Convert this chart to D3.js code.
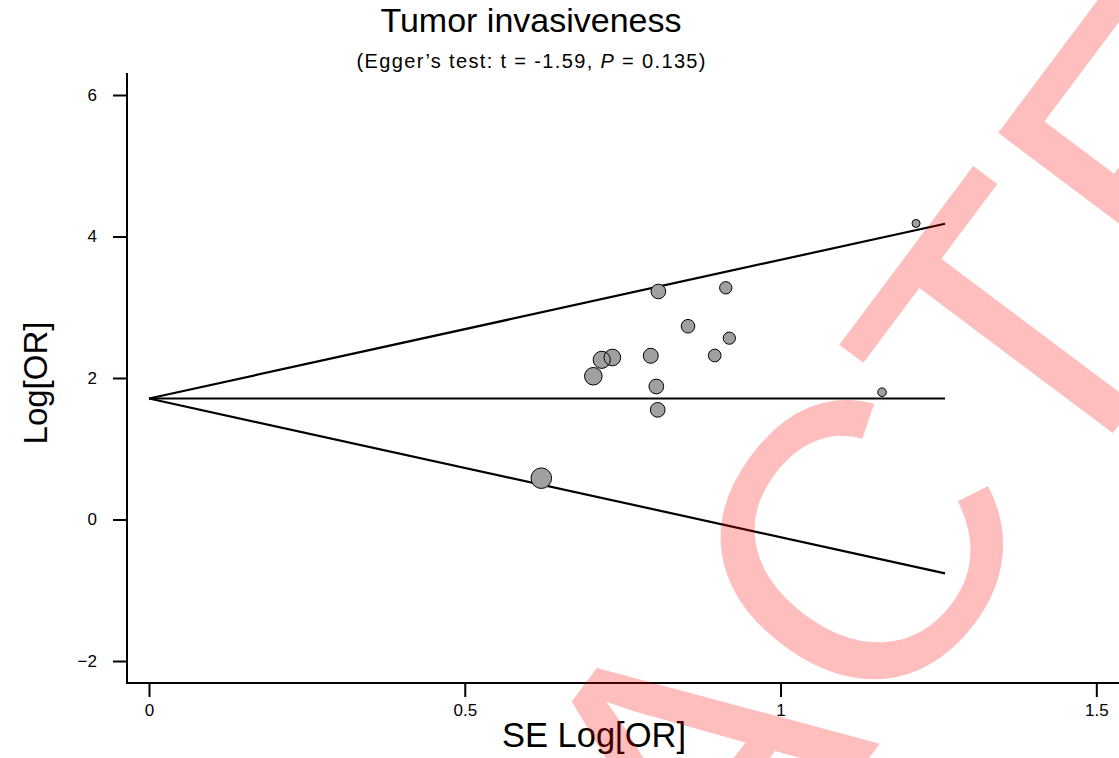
<!DOCTYPE html>
<html>
<head>
<meta charset="utf-8">
<script src="https://cdn.jsdelivr.net/npm/d3@7/dist/d3.min.js"></script>
<style>
  body { margin: 0; background: #fff; }
  text { font-family: "Liberation Sans", Arial, sans-serif; }
</style>
</head>
<body>
<div id="chart"></div>
<script>
// study estimates
var seValues  = [1.2146, 0.8065, 0.9133, 0.8535, 0.9189, 0.7945, 0.8958, 0.7337, 0.7169, 0.7036, 0.8033, 0.8055, 1.1607, 0.6212];
var logOR     = [4.184, 3.223, 3.275, 2.732, 2.563, 2.314, 2.318, 2.290, 2.257, 2.025, 1.880, 1.550, 1.799, 0.584];
var pooled = 1.71;
var maxSE = 1.2605;
var xTicks = [0, 0.5, 1, 1.5];
var yTicks = [-2, 0, 2, 4, 6];

var width = 1119, height = 758;

var svg = d3.select("#chart").append("svg")
  .attr("width", width).attr("height", height);

svg.append("rect").attr("width", width).attr("height", height).attr("fill", "#fff");

var x = d3.scaleLinear().domain([0, 1.5]).range([149, 1096.3]);
var y = d3.scaleLinear().domain([-2, 6]).range([661, 95]);
var r = d3.scaleLinear().domain([1 / 1.2146, 1 / 0.6212]).range([4, 10.3]);

var studies = seValues.map(function(se, i) { return { se: se, lor: logOR[i] }; });

// titles
svg.append("text").attr("x", 531).attr("y", 32).attr("text-anchor", "middle")
  .style("font-size", "34px").text("Tumor invasiveness");

var sub = svg.append("text").attr("x", 531).attr("y", 68).attr("text-anchor", "middle")
  .attr("textLength", 349).attr("lengthAdjust", "spacing")
  .style("font-size", "20px");
sub.append("tspan").text("(Egger\u2019s test: t = -1.59, ");
sub.append("tspan").style("font-style", "italic").text("P");
sub.append("tspan").text(" = 0.135)");

// axes
var yAxis = svg.append("g").attr("transform", "translate(127,0)")
  .call(d3.axisLeft(y).tickValues(yTicks).tickSize(14).tickPadding(16).tickFormat(d3.format("")));
var xAxis = svg.append("g").attr("transform", "translate(0,683)")
  .call(d3.axisBottom(x).tickValues(xTicks).tickSize(14).tickPadding(7).tickFormat(d3.format("")));

[yAxis, xAxis].forEach(function(a) {
  a.select(".domain").remove();
  a.selectAll(".tick line").attr("stroke", "#000").attr("stroke-width", 2);
  a.selectAll(".tick text").attr("fill", "#000").style("font-size", "17px")
    .style("font-family", "'Liberation Sans', Arial, sans-serif");
});

svg.append("line").attr("x1", 127).attr("x2", 127).attr("y1", 73).attr("y2", 684)
  .attr("stroke", "#000").attr("stroke-width", 2);
svg.append("line").attr("x1", 126).attr("x2", width).attr("y1", 683).attr("y2", 683)
  .attr("stroke", "#000").attr("stroke-width", 2);

svg.append("text").attr("transform", "translate(47,383) rotate(-90)")
  .attr("text-anchor", "middle").style("font-size", "33px").text("Log[OR]");
svg.append("text").attr("x", 594).attr("y", 747).attr("text-anchor", "middle")
  .style("font-size", "34.5px").text("SE Log[OR]");

// funnel lines
var funnel = [
  [[0, pooled], [maxSE, pooled + 1.96 * maxSE]],
  [[0, pooled], [maxSE, pooled]],
  [[0, pooled], [maxSE, pooled - 1.96 * maxSE]]
];
var line = d3.line().x(function(d) { return x(d[0]); }).y(function(d) { return y(d[1]); });
svg.append("g").selectAll("path").data(funnel).enter().append("path")
  .attr("d", line).attr("fill", "none").attr("stroke", "#000").attr("stroke-width", 2.2);

// points: fills first, then outlines
var pts = svg.append("g");
pts.selectAll("circle.f").data(studies).enter().append("circle").attr("class", "f")
  .attr("cx", function(d) { return x(d.se); })
  .attr("cy", function(d) { return y(d.lor); })
  .attr("r", function(d) { return r(1 / d.se); })
  .attr("fill", "#a0a0a0");
pts.selectAll("circle.o").data(studies).enter().append("circle").attr("class", "o")
  .attr("cx", function(d) { return x(d.se); })
  .attr("cy", function(d) { return y(d.lor); })
  .attr("r", function(d) { return r(1 / d.se); })
  .attr("fill", "none").attr("stroke", "#000").attr("stroke-width", 1);

// watermark
svg.append("text").attr("transform", "translate(77,1814) rotate(-53.13)")
  .style("font-size", "395px").attr("fill", "red").attr("opacity", 0.25)
  .style("pointer-events", "none").text("RETRACTED");
</script>
</body>
</html>
